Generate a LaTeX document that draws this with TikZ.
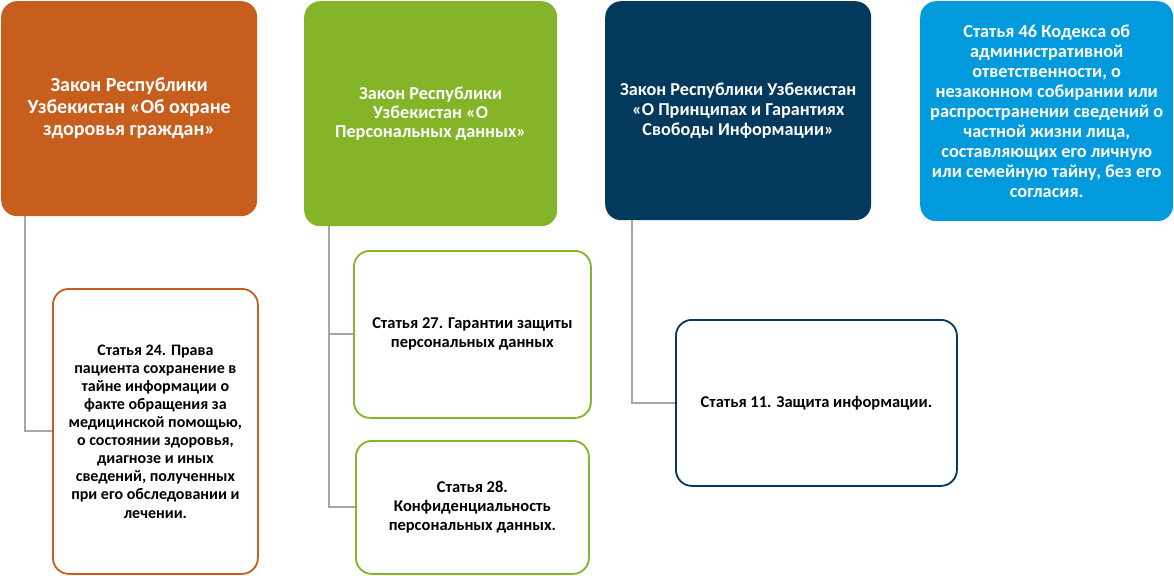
\documentclass[tikz,border=0pt]{standalone}
\usepackage{fontspec}
\setmainfont{Carlito}
\definecolor{corange}{RGB}{200,94,30}
\definecolor{cgreen}{RGB}{132,180,40}
\definecolor{cnavy}{RGB}{3,57,92}
\definecolor{cblue}{RGB}{0,154,221}
\definecolor{cgray}{RGB}{166,166,166}
\tikzset{
  head/.style={rounded corners=16pt, anchor=north west, inner sep=0pt, align=center, text=white, font=\bfseries},
  child/.style={rounded corners=16pt, anchor=north west, inner sep=0pt, align=center, fill=white, line width=1.8pt, text=black, font=\bfseries\fontsize{16.5}{19}\selectfont},
  conn/.style={draw=cgray, line width=2pt},
}
\begin{document}
\begin{tikzpicture}[x=1pt,y=1pt]
\useasboundingbox[fill=white] (0,0) rectangle (1174,-575);
% headers
\node[head, fill=corange, minimum width=256pt, minimum height=215pt, font=\bfseries\fontsize{20}{22}\selectfont] (h1) at (1,-1)
  {Закон Республики\\Узбекистан «Об охране\\здоровья граждан»};
\node[head, fill=cgreen, minimum width=253pt, minimum height=225pt, font=\bfseries\fontsize{18.2}{19}\selectfont] (h2) at (304,-1)
  {Закон Республики\\Узбекистан «О\\Персональных данных»};
\node[head, fill=cnavy, minimum width=266pt, minimum height=219pt, font=\bfseries\fontsize{18.2}{20}\selectfont] (h3) at (605,-1)
  {Закон Республики Узбекистан\\«О Принципах и Гарантиях\\Свободы Информации»};
\node[head, fill=cblue, minimum width=253pt, minimum height=220pt, font=\bfseries\fontsize{18.3}{20}\selectfont] (h4) at (920,-1)
  {Статья 46 Кодекса об\\административной\\ответственности, о\\незаконном собирании или\\распространении сведений о\\частной жизни лица,\\составляющих его личную\\или семейную тайну, без его\\согласия.};
% children
\node[child, draw=corange, minimum width=205pt, minimum height=285pt, font=\bfseries\fontsize{16}{18.1}\selectfont] (c24) at (52,-288)
  {Статья 24. Права\\пациента сохранение в\\тайне информации о\\факте обращения за\\медицинской помощью,\\о состоянии здоровья,\\диагнозе и иных\\сведений, полученных\\при его обследовании и\\лечении.};
\node[child, draw=cgreen, minimum width=237pt, minimum height=167pt] (c27) at (353,-250)
  {Статья 27. Гарантии защиты\\персональных данных};
\node[child, draw=cgreen, minimum width=233pt, minimum height=133pt] (c28) at (355,-440)
  {Статья 28.\\Конфиденциальность\\персональных данных.};
\node[child, draw=cnavy, minimum width=281pt, minimum height=166pt] (c11) at (675,-319)
  {Статья 11. Защита информации.};
% connectors
\draw[conn] ([xshift=24pt]h1.south west) |- (c24.west);
\draw[conn] ([xshift=25pt]h2.south west) |- (c27.west);
\draw[conn] ([xshift=25pt]h2.south west) |- (c28.west);
\draw[conn] ([xshift=27pt]h3.south west) |- (c11.west);
\end{tikzpicture}
\end{document}
